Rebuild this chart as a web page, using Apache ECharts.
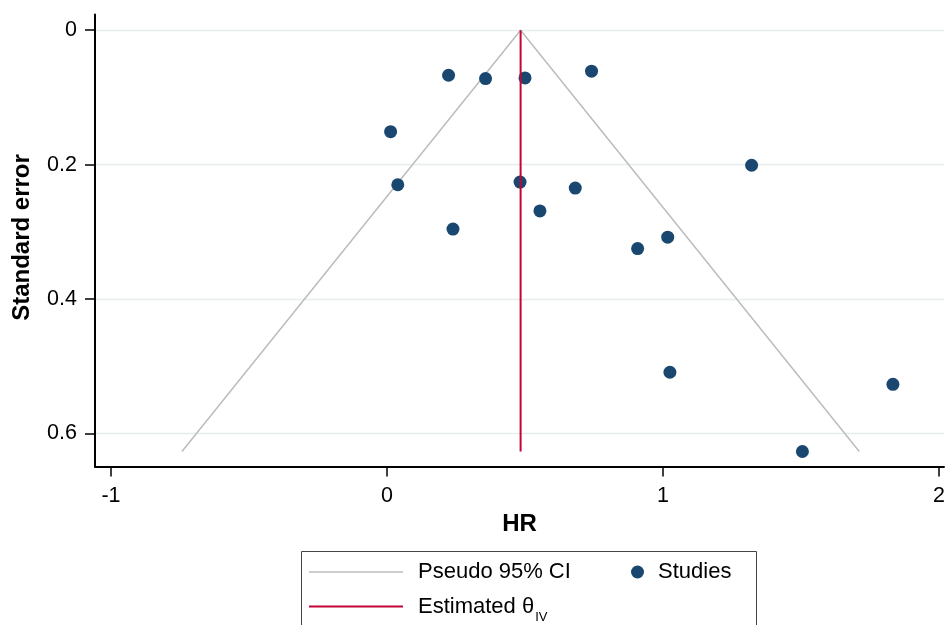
<!DOCTYPE html>
<html>
<head>
<meta charset="utf-8">
<script src="https://cdn.jsdelivr.net/npm/echarts@6/dist/echarts.min.js"></script>
<style>
html,body{margin:0;padding:0;background:#fff;}
#chart{width:948px;height:625px;}
</style>
</head>
<body>
<div id="chart"></div>
<script>
// ---- data ----
const studyHR = [0.223, 0.357, 0.500, 0.741, 0.013, 0.039, 0.482, 0.682, 0.554, 0.239, 1.321, 1.017, 0.908, 1.025, 1.833, 1.505];
const studySE = [0.067, 0.072, 0.071, 0.061, 0.151, 0.230, 0.226, 0.235, 0.269, 0.296, 0.201, 0.308, 0.325, 0.509, 0.527, 0.627];
const thetaIV = 0.484;
const seMax = 0.627;
const ciHR = [-0.743, 0.484, 1.711];
const ciSE = [0.627, 0, 0.627];
const xTicks = [-1, 0, 1, 2];
const yTicks = [0, 0.2, 0.4, 0.6];

const FONT = '"Liberation Sans", Arial, Helvetica, sans-serif';
const studies = studyHR.map((v, i) => [v, studySE[i]]);
const ciLine = ciHR.map((v, i) => [v, ciSE[i]]);
const estLine = [[thetaIV, 0], [thetaIV, seMax]];

const chart = echarts.init(document.getElementById('chart'), null, {renderer: 'canvas'});
chart.setOption({
  animation: false,
  backgroundColor: '#ffffff',
  grid: {left: 95, right: 0, top: 14.5, bottom: 158.5, containLabel: false},
  xAxis: {
    type: 'value', min: -1.058, max: 2.018,
    name: 'HR', nameLocation: 'middle', nameGap: 42,
    nameTextStyle: {fontFamily: FONT, fontSize: 24, fontWeight: 'bold', color: '#000'},
    axisLine: {show: true, onZero: false, lineStyle: {color: '#000', width: 2}},
    axisTick: {show: true, length: 10, customValues: xTicks, lineStyle: {color: '#000', width: 1.5}},
    axisLabel: {customValues: xTicks, margin: 19, fontFamily: FONT, fontSize: 21.5, color: '#000', formatter: v => String(v)},
    splitLine: {show: false}
  },
  yAxis: {
    type: 'value', inverse: true, min: -0.0234, max: 0.6493,
    name: 'Standard error', nameLocation: 'middle', nameGap: 61, nameRotate: 90,
    nameTextStyle: {fontFamily: FONT, fontSize: 24, fontWeight: 'bold', color: '#000', padding: [0, 0, 0, 6]},
    axisLine: {show: true, onZero: false, lineStyle: {color: '#000', width: 2}},
    axisTick: {show: true, length: 10, customValues: yTicks, lineStyle: {color: '#000', width: 1.5}},
    axisLabel: {customValues: yTicks, margin: 18, fontFamily: FONT, fontSize: 21.5, color: '#000', formatter: v => String(v)},
    splitLine: {show: true, lineStyle: {color: '#e6edeb', width: 1.3}}
  },
  legend: [
    {
      data: [{name: 'Pseudo 95% CI', icon: 'rect'}],
      left: 309, top: 560, padding: 0, itemWidth: 94, itemHeight: 1.5, selectedMode: false,
      itemStyle: {borderWidth: 0},
      textStyle: {fontFamily: FONT, fontSize: 22, color: '#000', lineHeight: 24, padding: [0, 0, 0, 10]}
    },
    {
      data: [{name: 'Estimated θIV', icon: 'rect'}],
      left: 309, top: 589.5, padding: 0, itemWidth: 94, itemHeight: 2, selectedMode: false,
      itemStyle: {borderWidth: 0},
      formatter: () => '{a|Estimated θ}{s|IV}',
      textStyle: {
        fontFamily: FONT, fontSize: 22, color: '#000', padding: [0, 0, 0, 10],
        rich: {
          a: {fontFamily: FONT, fontSize: 22, color: '#000', lineHeight: 24, verticalAlign: 'middle'},
          s: {fontFamily: FONT, fontSize: 13, color: '#000', lineHeight: 13, padding: [21, 0, 0, 1]}
        }
      }
    },
    {
      data: [{name: 'Studies', icon: 'circle'}],
      left: 631, top: 560, padding: 0, itemWidth: 13, itemHeight: 13, selectedMode: false,
      textStyle: {fontFamily: FONT, fontSize: 22, color: '#000', lineHeight: 24, padding: [0, 0, 0, 9]}
    }
  ],
  graphic: [
    {type: 'rect', left: 299, top: 549, shape: {width: 455, height: 100}, silent: true,
     style: {fill: 'none', stroke: '#444', lineWidth: 1}, z: 100}
  ],
  series: [
    {
      name: 'Pseudo 95% CI', type: 'line', data: ciLine, symbol: 'none', silent: true,
      itemStyle: {color: '#bcbcbc'},
      lineStyle: {color: '#bcbcbc', width: 1.5}, z: 2
    },
    {
      name: 'Studies', type: 'scatter', data: studies, symbol: 'circle', symbolSize: 13, silent: true,
      itemStyle: {color: '#1a476f', opacity: 1}, z: 3
    },
    {
      name: 'Estimated θIV', type: 'line', data: estLine, symbol: 'none', silent: true,
      itemStyle: {color: '#c10534'},
      lineStyle: {color: '#c10534', width: 2}, z: 4
    }
  ]
});
</script>
</body>
</html>
